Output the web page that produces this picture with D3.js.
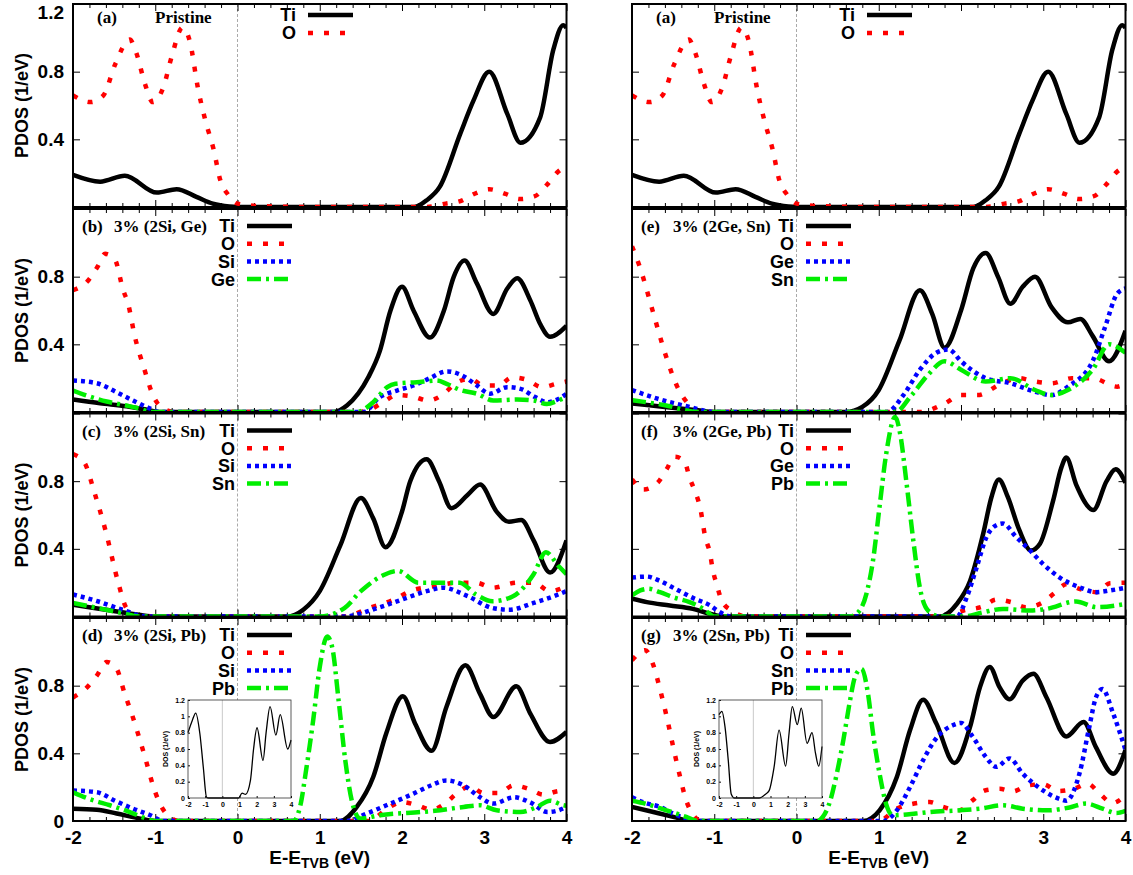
<!DOCTYPE html>
<html lang="en">
<head>
<meta charset="UTF-8" />
<title>PDOS</title>
<script src="https://cdn.jsdelivr.net/npm/d3@7"></script>
<style>
  body { margin: 0; background: #fff; }
  svg text { font-family: "Liberation Sans", Arial, sans-serif; font-weight: bold; fill: #000; }
  .serif { font-family: "Liberation Serif", "Times New Roman", serif; }
</style>
</head>
<body>
<svg id="fig" width="1133" height="875"></svg>
<script>
// ---- data : [E (eV), PDOS (1/eV)] ----
const xMajor = [-2, -1, 0, 1, 2, 3, 4];
const yMajor = [0, 0.4, 0.8, 1.2];
const yLabels = [[1.2, 0.8, 0.4], [0.8, 0.4], [0.8, 0.4], [0.8, 0.4, 0]];
const insetYTicks = [0, 0.2, 0.4, 0.6, 0.8, 1, 1.2];

// (a) pristine
const aTi = [[-2,0.19],[-1.67,0.15],[-1.37,0.185],[-0.98,0.085],[-0.74,0.105],[-0.5,0.06],[-0.3,0.02],[-0.1,0.003],[0,0],[1,0],[2.15,0],[2.3,0.04],[2.46,0.12],[2.71,0.435],[2.87,0.63],[3.06,0.80],[3.28,0.55],[3.44,0.38],[3.68,0.53],[3.84,0.93],[3.96,1.075],[4,1.06]];
const aO = [[-2,0.66],[-1.79,0.62],[-1.63,0.66],[-1.49,0.84],[-1.31,0.99],[-1.23,0.91],[-1.12,0.72],[-1.03,0.62],[-0.90,0.71],[-0.80,0.89],[-0.67,1.06],[-0.58,0.98],[-0.48,0.70],[-0.39,0.51],[-0.29,0.34],[-0.21,0.16],[-0.11,0.07],[0,0.02],[0.3,0.005],[1,0],[2.3,0],[2.53,0.02],[2.71,0.035],[2.89,0.08],[3.06,0.105],[3.26,0.077],[3.43,0.047],[3.62,0.065],[3.76,0.13],[3.90,0.21],[4,0.24]];

// (b) 2Si, Ge
const bTi = [[-2,0.074],[-1.67,0.052],[-1.35,0.034],[-1.10,0.013],[-0.95,0],[1.17,0],[1.33,0.038],[1.59,0.205],[1.73,0.36],[1.86,0.60],[2.00,0.74],[2.14,0.60],[2.34,0.44],[2.51,0.60],[2.63,0.80],[2.76,0.895],[2.91,0.76],[3.11,0.58],[3.28,0.73],[3.40,0.79],[3.56,0.66],[3.68,0.52],[3.80,0.445],[4,0.51]];
const bO = [[-2,0.72],[-1.81,0.78],[-1.70,0.86],[-1.61,0.935],[-1.49,0.90],[-1.39,0.72],[-1.33,0.64],[-1.25,0.45],[-1.14,0.265],[-1.02,0.09],[-0.90,0.02],[-0.75,0],[1.45,0],[1.59,0.01],[1.77,0.058],[1.94,0.10],[2.14,0.09],[2.32,0.068],[2.51,0.108],[2.65,0.17],[2.83,0.196],[2.99,0.157],[3.17,0.157],[3.34,0.205],[3.52,0.19],[3.70,0.147],[3.88,0.167],[4,0.18]];
const bSi = [[-2,0.186],[-1.71,0.17],[-1.47,0.117],[-1.27,0.068],[-1.06,0.02],[-0.95,0],[1.53,0],[1.73,0.088],[1.94,0.127],[2.14,0.157],[2.32,0.196],[2.55,0.24],[2.73,0.216],[2.91,0.157],[3.07,0.108],[3.28,0.147],[3.44,0.137],[3.62,0.088],[3.77,0.058],[3.88,0.072],[4,0.108]];
const bGe = [[-2,0.127],[-1.85,0.10],[-1.59,0.062],[-1.35,0.038],[-1.19,0.02],[-1.05,0],[1.45,0],[1.65,0.058],[1.82,0.147],[1.92,0.167],[2.18,0.176],[2.42,0.186],[2.55,0.165],[2.71,0.13],[2.91,0.108],[3.11,0.068],[3.40,0.074],[3.60,0.068],[3.76,0.048],[3.90,0.068],[4,0.088]];

// (c) 2Si, Sn
const cTi = [[-2,0.07],[-1.6,0.04],[-1.2,0.01],[-1.0,0],[0.6,0],[0.8,0.04],[1.0,0.15],[1.25,0.42],[1.5,0.70],[1.65,0.58],[1.8,0.41],[2.0,0.62],[2.1,0.8],[2.3,0.93],[2.45,0.8],[2.6,0.64],[2.8,0.72],[2.95,0.78],[3.15,0.62],[3.3,0.56],[3.45,0.57],[3.6,0.45],[3.8,0.26],[4,0.45]];
const cO = [[-2,0.96],[-1.9,0.93],[-1.85,0.9],[-1.75,0.75],[-1.6,0.5],[-1.45,0.2],[-1.35,0.05],[-1.2,0],[1.3,0],[1.6,0.05],[1.9,0.1],[2.1,0.15],[2.4,0.18],[2.7,0.2],[2.9,0.2],[3.1,0.17],[3.4,0.2],[3.6,0.2],[3.8,0.15],[4,0.18]];
const cSi = [[-2,0.13],[-1.7,0.09],[-1.4,0.04],[-1.1,0],[1.3,0],[1.7,0.05],[2.0,0.1],[2.3,0.15],[2.5,0.17],[2.8,0.12],[3.1,0.05],[3.3,0.04],[3.6,0.08],[3.9,0.13],[4,0.15]];
const cSn = [[-2,0.08],[-1.7,0.05],[-1.4,0.02],[-1.2,0],[1.0,0],[1.3,0.05],[1.5,0.15],[1.8,0.25],[1.95,0.27],[2.2,0.2],[2.5,0.2],[2.7,0.2],[2.9,0.13],[3.1,0.09],[3.35,0.12],[3.6,0.25],[3.75,0.38],[3.9,0.3],[4,0.25]];

// (d) 2Si, Pb
const dTi = [[-2,0.073],[-1.71,0.067],[-1.47,0.044],[-1.18,0.014],[-1.0,0],[1.25,0],[1.45,0.083],[1.65,0.26],[1.81,0.52],[2.01,0.737],[2.16,0.575],[2.36,0.415],[2.54,0.674],[2.77,0.92],[2.95,0.75],[3.11,0.615],[3.39,0.796],[3.56,0.635],[3.80,0.467],[4,0.526]];
const dO = [[-2,0.73],[-1.83,0.79],[-1.71,0.86],[-1.59,0.94],[-1.47,0.90],[-1.37,0.75],[-1.28,0.625],[-1.20,0.50],[-1.12,0.37],[-1.04,0.23],[-0.96,0.12],[-0.86,0.04],[-0.7,0],[1.6,0],[1.82,0.073],[2.00,0.112],[2.18,0.093],[2.36,0.067],[2.53,0.106],[2.67,0.165],[2.83,0.205],[2.99,0.165],[3.17,0.165],[3.36,0.21],[3.54,0.19],[3.72,0.156],[3.90,0.177],[4,0.18]];
const dSi = [[-2,0.18],[-1.71,0.17],[-1.49,0.12],[-1.27,0.073],[-1.06,0.034],[-0.9,0],[1.33,0],[1.57,0.044],[1.86,0.103],[2.14,0.162],[2.35,0.21],[2.54,0.24],[2.75,0.21],[2.95,0.14],[3.11,0.103],[3.36,0.14],[3.56,0.11],[3.77,0.053],[3.88,0.06],[4,0.083]];
const dPb = [[-2,0.17],[-1.79,0.128],[-1.55,0.093],[-1.31,0.053],[-1.14,0.02],[-1.0,0],[0.68,0],[0.76,0.083],[0.84,0.32],[0.92,0.595],[1.00,0.91],[1.09,1.09],[1.15,1.03],[1.23,0.71],[1.31,0.36],[1.39,0.12],[1.49,0.015],[1.73,0.034],[2.22,0.053],[2.40,0.06],[2.75,0.083],[2.95,0.093],[3.15,0.063],[3.44,0.053],[3.64,0.083],[3.80,0.12],[3.96,0.093],[4,0.09]];
const dTotal = [[-2,0.80],[-1.75,0.95],[-1.55,1.04],[-1.31,0.79],[-1.11,0.38],[-0.92,0.01],[-0.8,0],[0.95,0],[1.15,0.06],[1.35,0.045],[1.64,0.22],[1.82,0.6],[2.02,0.86],[2.37,0.46],[2.55,0.8],[2.78,1.12],[3.12,0.77],[3.37,1.02],[3.81,0.60],[4,0.71]];

// (e) 2Ge, Sn
const eTi = [[-2,0.05],[-1.6,0.03],[-1.2,0.01],[-1.0,0],[0.6,0],[0.8,0.03],[1.0,0.13],[1.25,0.42],[1.5,0.72],[1.65,0.58],[1.8,0.38],[2.0,0.6],[2.15,0.85],[2.3,0.94],[2.45,0.8],[2.6,0.64],[2.75,0.74],[2.9,0.8],[3.1,0.62],[3.3,0.53],[3.45,0.55],[3.6,0.45],[3.8,0.3],[4,0.48]];
const eO = [[-2,0.98],[-1.9,0.85],[-1.75,0.6],[-1.6,0.35],[-1.45,0.15],[-1.3,0.04],[-1.2,0],[1.5,0],[1.8,0.05],[2.0,0.1],[2.2,0.1],[2.5,0.17],[2.7,0.2],[2.9,0.18],[3.1,0.17],[3.35,0.2],[3.6,0.2],[3.9,0.15],[4,0.17]];
const eGe = [[-2,0.13],[-1.7,0.08],[-1.3,0.03],[-1.0,0],[1.1,0],[1.3,0.1],[1.5,0.25],[1.7,0.35],[1.85,0.37],[2.0,0.3],[2.3,0.2],[2.6,0.17],[2.9,0.12],[3.1,0.1],[3.3,0.15],[3.6,0.3],[3.75,0.5],[3.9,0.7],[4,0.73]];
const eSn = [[-2,0.07],[-1.6,0.04],[-1.2,0],[1.2,0],[1.4,0.1],[1.6,0.22],[1.8,0.3],[2.0,0.25],[2.3,0.18],[2.6,0.2],[2.9,0.13],[3.1,0.1],[3.3,0.13],[3.6,0.25],[3.8,0.4],[4,0.35]];

// (f) 2Ge, Pb
const fTi = [[-2,0.105],[-1.82,0.085],[-1.54,0.065],[-1.26,0.045],[-1.05,0.016],[-0.9,0],[1.74,0],[1.95,0.075],[2.11,0.21],[2.27,0.49],[2.37,0.705],[2.46,0.81],[2.57,0.705],[2.71,0.51],[2.85,0.39],[2.96,0.43],[3.12,0.685],[3.22,0.88],[3.28,0.94],[3.40,0.78],[3.61,0.63],[3.77,0.80],[3.88,0.87],[4,0.79]];
const fO = [[-2,0.81],[-1.86,0.75],[-1.69,0.79],[-1.58,0.87],[-1.48,0.945],[-1.36,0.915],[-1.30,0.82],[-1.23,0.735],[-1.17,0.64],[-1.11,0.47],[-1.05,0.37],[-1.02,0.28],[-0.97,0.19],[-0.91,0.095],[-0.79,0.035],[-0.6,0],[1.8,0],[2.03,0.035],[2.27,0.06],[2.43,0.1],[2.61,0.085],[2.79,0.055],[2.98,0.08],[3.14,0.14],[3.28,0.19],[3.46,0.16],[3.65,0.144],[3.81,0.197],[4,0.2]];
const fGe = [[-2,0.23],[-1.82,0.236],[-1.66,0.21],[-1.46,0.16],[-1.26,0.11],[-1.05,0.065],[-0.93,0.025],[-0.8,0],[1.95,0],[2.07,0.114],[2.19,0.29],[2.31,0.47],[2.43,0.54],[2.51,0.55],[2.67,0.47],[2.84,0.39],[3.00,0.31],[3.20,0.23],[3.44,0.173],[3.65,0.144],[3.81,0.154],[4,0.17]];
const fPb = [[-2,0.124],[-1.90,0.154],[-1.80,0.164],[-1.66,0.144],[-1.50,0.114],[-1.30,0.085],[-1.13,0.045],[-1.0,0],[0.65,0],[0.73,0.016],[0.85,0.134],[0.93,0.33],[1.01,0.65],[1.09,0.96],[1.20,1.18],[1.26,1.08],[1.34,0.78],[1.42,0.45],[1.50,0.17],[1.60,0.035],[1.75,0],[2.03,0],[2.27,0.025],[2.51,0.045],[2.84,0.035],[3.04,0.045],[3.40,0.089],[3.65,0.055],[4,0.075]];

// (g) 2Sn, Pb
const gTi = [[-2,0.083],[-1.74,0.053],[-1.46,0.02],[-1.3,0],[0.81,0],[1.01,0.063],[1.22,0.26],[1.38,0.536],[1.54,0.717],[1.70,0.576],[1.92,0.343],[2.11,0.556],[2.23,0.79],[2.35,0.91],[2.47,0.79],[2.59,0.72],[2.75,0.83],[2.88,0.87],[3.04,0.73],[3.28,0.50],[3.49,0.585],[3.64,0.437],[3.85,0.28],[4,0.42]];
const gO = [[-2,0.95],[-1.84,1.01],[-1.74,0.92],[-1.66,0.78],[-1.58,0.62],[-1.50,0.44],[-1.42,0.27],[-1.34,0.12],[-1.26,0.04],[-1.15,0],[1.0,0],[1.22,0.073],[1.43,0.103],[1.62,0.112],[1.78,0.083],[1.98,0.063],[2.14,0.122],[2.29,0.18],[2.47,0.19],[2.63,0.175],[2.81,0.21],[3.00,0.217],[3.18,0.177],[3.37,0.19],[3.54,0.22],[3.69,0.16],[3.84,0.106],[4,0.152]];
const gSn = [[-2,0.14],[-1.86,0.11],[-1.66,0.083],[-1.50,0.044],[-1.34,0.014],[-1.2,0],[1.05,0],[1.22,0.063],[1.38,0.2],[1.54,0.36],[1.70,0.49],[1.90,0.566],[2.00,0.58],[2.14,0.5],[2.30,0.38],[2.43,0.32],[2.59,0.37],[2.75,0.28],[3.00,0.18],[3.20,0.13],[3.28,0.12],[3.44,0.28],[3.56,0.556],[3.64,0.73],[3.72,0.78],[3.85,0.635],[4,0.42]];
const gPb = [[-2,0.12],[-1.82,0.1],[-1.58,0.063],[-1.34,0.024],[-1.2,0],[0.25,0],[0.32,0.024],[0.41,0.12],[0.49,0.28],[0.57,0.48],[0.65,0.71],[0.71,0.85],[0.79,0.90],[0.87,0.75],[0.93,0.52],[1.01,0.28],[1.09,0.10],[1.17,0.034],[1.45,0.044],[1.62,0.053],[1.98,0.063],[2.23,0.073],[2.51,0.093],[2.75,0.073],[3.04,0.063],[3.32,0.08],[3.52,0.103],[3.72,0.073],[3.89,0.047],[4,0.06]];
const gTotal = [[-2,1.02],[-1.83,1.06],[-1.65,0.87],[-1.46,0.46],[-1.29,0.05],[-1.1,0],[0.35,0],[0.73,0.05],[0.92,0.09],[1.21,0.38],[1.5,0.83],[1.88,0.39],[2.08,0.79],[2.27,1.12],[2.56,0.9],[2.79,1.10],[3.13,0.67],[3.42,0.8],[3.62,0.55],[3.81,0.39],[4,0.63]];

// ---- layout ----
const colX = [73, 632];
const colW = 493.5;
const rowY = [4, 209, 413.5, 618];
const rowH = 203;

// line styles by legend position: Ti, O, 3rd, 4th
const styles = [
  { color: "#000000", dash: null },
  { color: "#ff0000", dash: "5,11" },
  { color: "#0000ff", dash: "4,4" },
  { color: "#00ee00", dash: "14,5,3,5" }
];

const panels = [
  { col: 0, row: 0, tag: "(a)", title: "Pristine", names: ["Ti", "O"], data: [aTi, aO] },
  { col: 0, row: 1, tag: "(b)", title: "3% (2Si, Ge)", names: ["Ti", "O", "Si", "Ge"], data: [bTi, bO, bSi, bGe] },
  { col: 0, row: 2, tag: "(c)", title: "3% (2Si, Sn)", names: ["Ti", "O", "Si", "Sn"], data: [cTi, cO, cSi, cSn] },
  { col: 0, row: 3, tag: "(d)", title: "3% (2Si, Pb)", names: ["Ti", "O", "Si", "Pb"], data: [dTi, dO, dSi, dPb], inset: dTotal, insetX: 188 },
  { col: 1, row: 0, tag: "(a)", title: "Pristine", names: ["Ti", "O"], data: [aTi, aO] },
  { col: 1, row: 1, tag: "(e)", title: "3% (2Ge, Sn)", names: ["Ti", "O", "Ge", "Sn"], data: [eTi, eO, eGe, eSn] },
  { col: 1, row: 2, tag: "(f)", title: "3% (2Ge, Pb)", names: ["Ti", "O", "Ge", "Pb"], data: [fTi, fO, fGe, fPb] },
  { col: 1, row: 3, tag: "(g)", title: "3% (2Sn, Pb)", names: ["Ti", "O", "Sn", "Pb"], data: [gTi, gO, gSn, gPb], inset: gTotal, insetX: 719 }
];

const svg = d3.select("#fig");
const xMinor = d3.range(-2, 4.001, 0.2).filter(v => Math.abs(v - Math.round(v)) > 0.01);

function styleAxis(sel, size) {
  sel.select(".domain").remove();
  sel.attr("font-family", null).attr("font-size", size).attr("fill", null);
  sel.selectAll("line").attr("stroke", "#000").attr("stroke-width", 1);
  sel.selectAll(".tick text").filter(function () { return this.textContent === ""; }).remove();
}

panels.forEach((p, i) => {
  const x0 = colX[p.col], y0 = rowY[p.row];
  const x = d3.scaleLinear().domain([-2, 4]).range([x0, x0 + colW]);
  const y = d3.scaleLinear().domain([0, 1.2]).range([y0 + rowH, y0]);
  const g = svg.append("g");

  g.append("clipPath").attr("id", "clip" + i)
    .append("rect").attr("x", x0).attr("y", y0).attr("width", colW).attr("height", rowH);

  // zero line
  g.append("line")
    .attr("x1", x(0)).attr("x2", x(0)).attr("y1", y0).attr("y2", y0 + rowH)
    .attr("stroke", "#aaa").attr("stroke-width", 1).attr("stroke-dasharray", "3,2");

  // ticks
  const isBottom = p.row === 3;
  g.append("g").attr("transform", `translate(0,${y0 + rowH})`)
    .call(d3.axisBottom(x).tickValues(xMajor).tickSize(-7).tickPadding(10)
      .tickFormat(d => isBottom ? String(d) : ""))
    .call(s => styleAxis(s, 19));
  g.append("g").attr("transform", `translate(0,${y0 + rowH})`)
    .call(d3.axisBottom(x).tickValues(xMinor).tickSize(-4).tickFormat(""))
    .call(s => styleAxis(s, 19));
  g.append("g").attr("transform", `translate(0,${y0})`)
    .call(d3.axisTop(x).tickValues(xMajor).tickSize(-7).tickFormat(""))
    .call(s => styleAxis(s, 19));
  g.append("g").attr("transform", `translate(0,${y0})`)
    .call(d3.axisTop(x).tickValues(xMinor).tickSize(-4).tickFormat(""))
    .call(s => styleAxis(s, 19));
  const yAx = g.append("g").attr("transform", `translate(${x0},0)`)
    .call(d3.axisLeft(y).tickValues(yMajor).tickSize(-7).tickPadding(9)
      .tickFormat(d => (p.col === 0 && yLabels[p.row].includes(d)) ? (d === 0 ? "0" : d.toFixed(1)) : ""))
    .call(s => styleAxis(s, 19));
  // keep the top "1.2" inside the picture
  yAx.selectAll(".tick").filter(d => d === 1.2).select("text").attr("dy", "0.75em");
  g.append("g").attr("transform", `translate(${x0 + colW},0)`)
    .call(d3.axisRight(y).tickValues(yMajor).tickSize(-7).tickFormat(""))
    .call(s => styleAxis(s, 19));

  // curves
  const line = d3.line().x(d => x(d[0])).y(d => y(d[1])).curve(d3.curveMonotoneX);
  const curves = g.append("g").attr("clip-path", `url(#clip${i})`);
  p.data.forEach((ser, k) => {
    curves.append("path").datum(ser)
      .attr("d", line)
      .attr("fill", "none")
      .attr("stroke", styles[k].color)
      .attr("stroke-width", 4.5)
      .attr("stroke-linejoin", "round")
      .attr("stroke-dasharray", styles[k].dash);
  });

  // border
  g.append("rect").attr("x", x0).attr("y", y0).attr("width", colW).attr("height", rowH)
    .attr("fill", "none").attr("stroke", "#000").attr("stroke-width", 2);

  // panel label
  const pristine = p.row === 0;
  g.append("text").attr("class", "serif").attr("font-size", 17)
    .attr("x", x0 + (pristine ? 24 : 9)).attr("y", y0 + (pristine ? 19 : 23)).text(p.tag);
  g.append("text").attr("class", "serif").attr("font-size", 17)
    .attr("x", x0 + (pristine ? 82 : 41)).attr("y", y0 + (pristine ? 19 : 23)).text(p.title);

  // legend
  const lx = x0 + (pristine ? 223 : 162);
  const ly = y0 + (pristine ? 11 : 17);
  const step = pristine ? 18 : 17.7;
  p.names.forEach((n, k) => {
    const yy = ly + k * step;
    g.append("text").attr("x", lx).attr("y", yy).attr("dy", "0.36em")
      .attr("text-anchor", "end").attr("font-size", 18).text(n);
    g.append("line").attr("x1", lx + 12).attr("x2", lx + 57).attr("y1", yy).attr("y2", yy)
      .attr("stroke", styles[k].color).attr("stroke-width", 4.5)
      .attr("stroke-dasharray", styles[k].dash);
  });

  // y label
  if (p.col === 0) {
    g.append("text").attr("font-size", 18).attr("text-anchor", "middle")
      .attr("transform", `translate(22,${y0 + rowH / 2}) rotate(-90)`)
      .attr("dy", "0.35em").text("PDOS (1/eV)");
  }

  // x label
  if (isBottom) {
    const t = g.append("text").attr("font-size", 19).attr("text-anchor", "middle")
      .attr("x", x0 + colW / 2).attr("y", 864);
    t.append("tspan").text("E-E");
    t.append("tspan").attr("font-size", 14).attr("dy", 4).text("TVB");
    t.append("tspan").attr("dy", -4).text(" (eV)");
  }

  // inset total DOS
  if (p.inset) {
    const ix0 = p.insetX, iw = 103, iy0 = 700, ih = 98;
    const ix = d3.scaleLinear().domain([-2, 4]).range([ix0, ix0 + iw]);
    const iy = d3.scaleLinear().domain([0, 1.2]).range([iy0 + ih, iy0]);
    const ig = g.append("g");
    ig.append("rect").attr("x", ix0).attr("y", iy0).attr("width", iw).attr("height", ih)
      .attr("fill", "#fff");
    ig.append("line").attr("x1", ix(0)).attr("x2", ix(0)).attr("y1", iy0).attr("y2", iy0 + ih)
      .attr("stroke", "#bbb").attr("stroke-width", 0.8);
    ig.append("g").attr("transform", `translate(0,${iy0 + ih})`)
      .call(d3.axisBottom(ix).tickValues(xMajor).tickSize(-2).tickPadding(4).tickFormat(d => String(d)))
      .call(s => styleAxis(s, 7));
    ig.append("g").attr("transform", `translate(${ix0},0)`)
      .call(d3.axisLeft(iy).tickValues(insetYTicks).tickSize(-2).tickPadding(3).tickFormat(d => String(+d.toFixed(1))))
      .call(s => styleAxis(s, 7));
    ig.selectAll("text").attr("font-weight", "normal");
    ig.append("path").datum(p.inset)
      .attr("d", d3.line().x(d => ix(d[0])).y(d => iy(d[1])).curve(d3.curveMonotoneX))
      .attr("fill", "none").attr("stroke", "#000").attr("stroke-width", 1.3);
    ig.append("rect").attr("x", ix0).attr("y", iy0).attr("width", iw).attr("height", ih)
      .attr("fill", "none").attr("stroke", "#333").attr("stroke-width", 0.8);
    ig.append("text").attr("font-size", 7).attr("font-weight", "normal").attr("text-anchor", "middle")
      .attr("transform", `translate(${ix0 - 20},${iy0 + ih / 2}) rotate(-90)`)
      .text("DOS (1/eV)");
  }
});
</script>
</body>
</html>
